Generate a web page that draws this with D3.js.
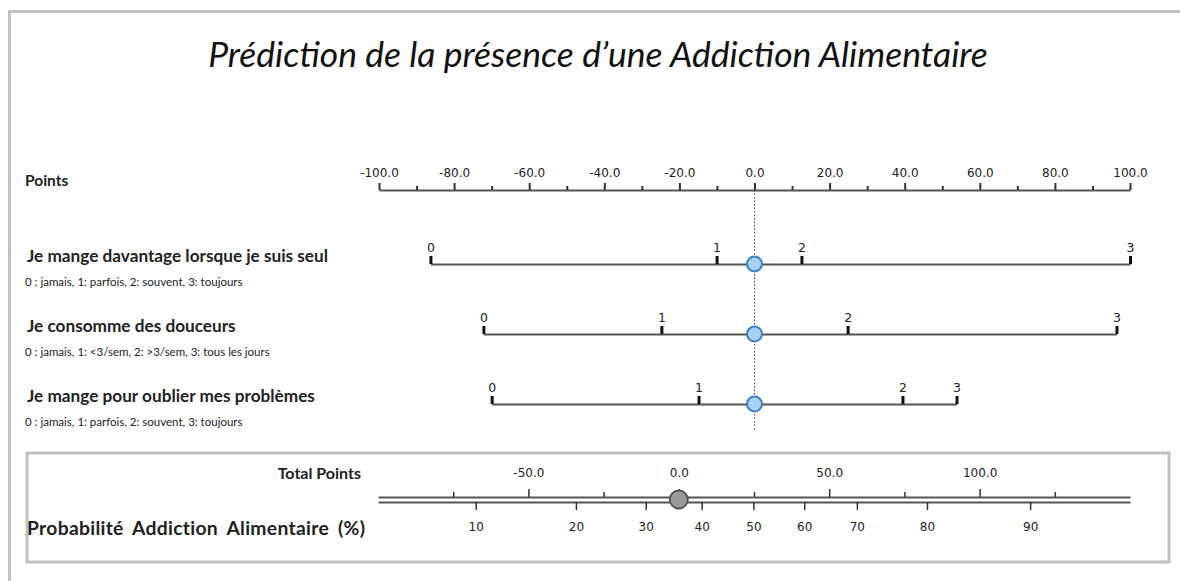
<!DOCTYPE html>
<html>
<head>
<meta charset="utf-8">
<script src="https://cdn.jsdelivr.net/npm/d3@7"></script>
<style>
  html, body { margin: 0; background: #fff; overflow: hidden; }
  svg { display: block; }
  svg text { fill: #222; }
  .lbl { font-family: Lato, "Open Sans", sans-serif; font-weight: bold; }
  .note { font-family: Lato, "Open Sans", sans-serif; font-size: 11.5px; }
  .tick text { font-family: "DejaVu Sans", sans-serif; font-size: 12px; }
</style>
</head>
<body>
<svg width="1180" height="581"></svg>
<script>
// nomogram data
const pointTicks  = [-100, -80, -60, -40, -20, 0, 20, 40, 60, 80, 100];
const pointMinor  = [-90, -70, -50, -30, -10, 10, 30, 50, 70, 90];
const rowLabels   = ["Je mange davantage lorsque je suis seul", "Je consomme des douceurs", "Je mange pour oublier mes problèmes"];
const rowNotes    = ["0 : jamais,  1: parfois, 2: souvent, 3: toujours",
                     "0 : jamais,  1: <3/sem, 2: >3/sem, 3: tous les jours",
                     "0 : jamais,  1: parfois, 2: souvent, 3: toujours"];
const rowLevels   = ["0", "1", "2", "3"];
const rowPoints   = [[-86.3, -10.1, 12.5, 100], [-72.2, -24.8, 24.8, 96.4], [-70.0, -14.9, 39.4, 53.8]];
const rowSelected = [0, 0, 0];                 // points of the selected value (blue markers)
const totalTicks  = [-50, 0, 50, 100];
const totalMinor  = [-75, -25, 25, 75, 125];
const probLabels  = [10, 20, 30, 40, 50, 60, 70, 80, 90];
const probAt      = [-67.5, -34.2, -11.0, 7.6, 24.8, 41.7, 59.2, 82.5, 116.8]; // total points of each % tick
const totalValue  = 0;

const fmt = d => d.toFixed(1);
const svg = d3.select("svg");

// frame: only the top and left edges are visible
svg.append("path").attr("d", "M9.5,581V11.5H1180")
   .attr("fill", "none").attr("stroke", "#c0c0c0").attr("stroke-width", 3);

svg.append("text")
   .attr("x", 598).attr("y", 67).attr("text-anchor", "middle")
   .style("font-family", "Lato, 'Open Sans', sans-serif").style("font-style", "italic")
   .style("font-size", "35.5px").style("fill", "#111")
   .text("Prédiction de la présence d’une Addiction Alimentaire");

const x = d3.scaleLinear().domain([-100, 100]).range([379, 1130]);

// Points axis
const axisY = 190;
svg.append("g").attr("class", "axis-points")
   .attr("transform", `translate(0,${axisY})`)
   .call(d3.axisTop(x).tickValues(pointTicks).tickFormat(fmt).tickSize(7).tickSizeOuter(0).tickPadding(6));
svg.append("g").attr("transform", `translate(0,${axisY})`)
   .call(d3.axisTop(x).tickValues(pointMinor).tickFormat("").tickSize(4).tickSizeOuter(0))
   .select(".domain").remove();
svg.selectAll(".axis-points .domain").attr("stroke", "#555").attr("stroke-width", 2);
svg.selectAll("g line").attr("stroke", "#333").attr("stroke-width", 2);

svg.append("text").attr("class", "lbl").attr("x", 25).attr("y", 186)
   .style("font-size", "15.5px").text("Points");

// dotted reference line at 0 points
svg.append("line").attr("x1", x(0)).attr("x2", x(0)).attr("y1", axisY).attr("y2", 430)
   .attr("stroke", "#444").attr("stroke-width", 1).attr("stroke-dasharray", "1.5,2");

// variable rows
const rowY = [264, 334, 404];
rowLabels.forEach((lab, i) => {
  const pts = rowPoints[i];
  const sx = d3.scaleLinear().domain(d3.extent(pts)).range(d3.extent(pts).map(x));
  const g = svg.append("g").attr("transform", `translate(0,${rowY[i]})`);
  g.call(d3.axisTop(sx).tickValues(pts).tickFormat((d, j) => rowLevels[j]).tickSize(8).tickSizeOuter(0).tickPadding(4));
  g.select(".domain").attr("stroke", "#555").attr("stroke-width", 2);
  g.selectAll(".tick line").attr("stroke", "#111").attr("stroke-width", 3);
  g.selectAll(".tick text").style("font-size", "12.5px");

  g.append("circle").attr("cx", x(rowSelected[i])).attr("cy", 0).attr("r", 7.5)
   .attr("fill", "#a8d2f2").attr("stroke", "#3b82c8").attr("stroke-width", 2);

  svg.append("text").attr("class", "lbl").attr("x", 27).attr("y", rowY[i] - 2)
     .style("font-size", "17.2px").text(lab);
  svg.append("text").attr("class", "note").attr("x", 25).attr("y", rowY[i] + 22).text(rowNotes[i]);
});

// total points / probability box
svg.append("rect").attr("x", 27).attr("y", 453).attr("width", 1142).attr("height", 109)
   .attr("fill", "none").attr("stroke", "#c0c0c0").attr("stroke-width", 3);

const t = d3.scaleLinear().domain([-100, 150]).range([378, 1130]);
const upY = 497, loY = 502;

svg.append("g").attr("class", "axis-total").attr("transform", `translate(0,${upY})`)
   .call(d3.axisTop(t).tickValues(totalTicks).tickFormat(fmt).tickSize(8).tickSizeOuter(0).tickPadding(12));
svg.append("g").attr("class", "axis-minor").attr("transform", `translate(0,${upY})`)
   .call(d3.axisTop(t).tickValues(totalMinor).tickFormat("").tickSize(5).tickSizeOuter(0))
   .select(".domain").remove();
svg.append("g").attr("class", "axis-prob").attr("transform", `translate(0,${loY})`)
   .call(d3.axisBottom(t).tickValues(probAt).tickFormat((d, j) => probLabels[j]).tickSize(8).tickSizeOuter(0).tickPadding(12));
svg.selectAll(".axis-total .domain, .axis-prob .domain").attr("stroke", "#555").attr("stroke-width", 2);
svg.selectAll(".axis-total .tick line, .axis-minor .tick line, .axis-prob .tick line").attr("stroke", "#333").attr("stroke-width", 1.5);

svg.append("circle").attr("cx", t(totalValue)).attr("cy", (upY + loY) / 2).attr("r", 9)
   .attr("fill", "#999").attr("stroke", "#555").attr("stroke-width", 2);

svg.append("text").attr("class", "lbl").attr("x", 361).attr("y", 479).attr("text-anchor", "end")
   .style("font-size", "16px").text("Total Points");
svg.append("text").attr("class", "lbl").attr("x", 27).attr("y", 535)
   .style("font-size", "19.3px").style("letter-spacing", "0.3px").style("word-spacing", "4px")
   .text("Probabilité Addiction Alimentaire (%)");
</script>
</body>
</html>
